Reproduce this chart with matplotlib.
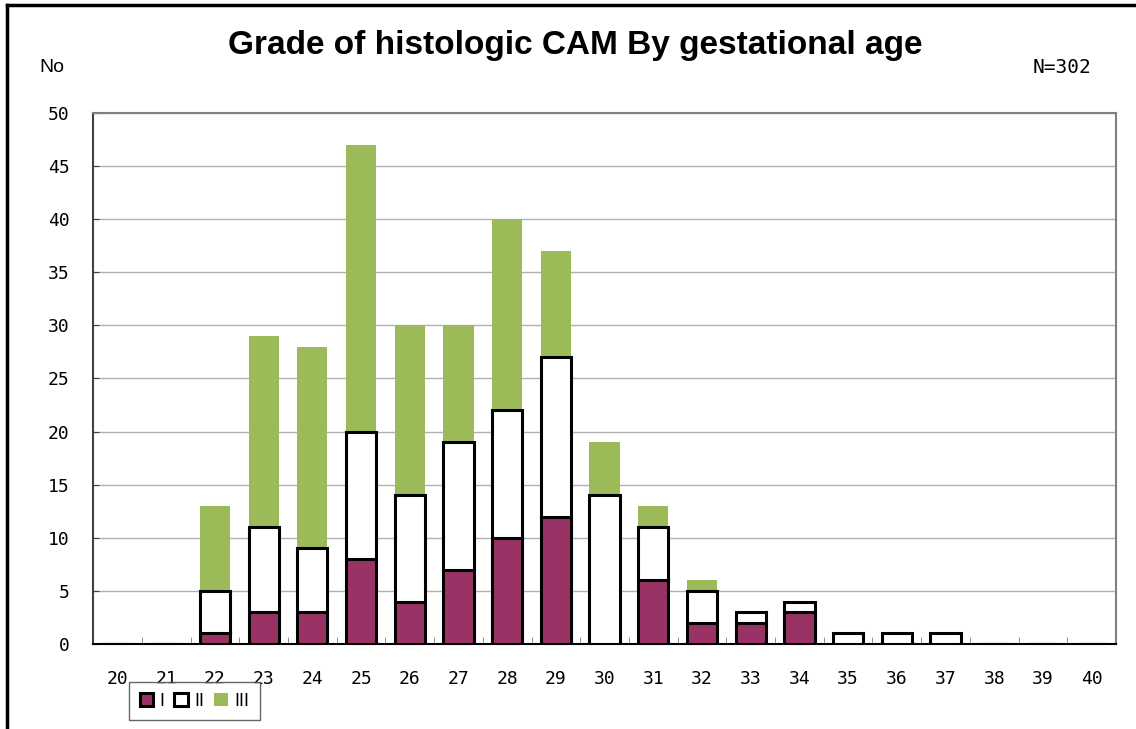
import matplotlib.pyplot as plt
from matplotlib.patches import Patch
from matplotlib.lines import Line2D
import numpy as np

# gestational age (weeks)
ages = [str(a) for a in range(20, 41)]
# number of cases per grade
grade1 = [0, 0, 1, 3, 3, 8, 4, 7, 10, 12, 0, 6, 2, 2, 3, 0, 0, 0, 0, 0, 0]
grade2 = [0, 0, 4, 8, 6, 12, 10, 12, 12, 15, 14, 5, 3, 1, 1, 1, 1, 1, 0, 0, 0]
grade3 = [0, 0, 8, 18, 19, 27, 16, 11, 18, 10, 5, 2, 1, 0, 0, 0, 0, 0, 0, 0, 0]

plum = '#993366'
green = '#9bbb59'
mono = 'DejaVu Sans Mono'

fig = plt.figure(figsize=(11.36, 7.29), dpi=100)
ax = fig.add_axes([0.082, 0.1166, 0.9004, 0.7284])

x = np.arange(len(ages))
g1 = np.array(grade1)
g2 = np.array(grade2)
g3 = np.array(grade3)
w = 0.62

ax.bar(x, g1, w, color=plum, edgecolor='black', linewidth=2.2, zorder=3)
ax.bar(x, g2, w, bottom=g1, color='white', edgecolor='black', linewidth=2.2, zorder=3)
ax.bar(x, g3, w, bottom=g1 + g2, color=green, edgecolor='none', zorder=2)

ax.set_xlim(-0.5, len(ages) - 0.5)
ax.set_ylim(0, 50)
ax.set_yticks(range(0, 51, 5))
ax.yaxis.grid(True, color='#b0b0b0', linewidth=1)
ax.set_axisbelow(True)

ax.set_xticks(x)
ax.set_xticklabels(ages, fontfamily=mono, fontsize=13)
ax.set_xticks(np.arange(-0.5, len(ages)), minor=True)
ax.tick_params(axis='x', which='major', length=0, pad=19)
ax.tick_params(axis='x', which='minor', direction='in', length=5, color='#808080')
ax.tick_params(axis='y', direction='in', length=4, color='#404040', pad=17)
for lab in ax.get_yticklabels():
    lab.set_fontfamily(mono)
    lab.set_fontsize(13)

for s in ['top', 'right']:
    ax.spines[s].set_color('#808080')
    ax.spines[s].set_linewidth(1.5)
ax.spines['left'].set_color('#404040')
ax.spines['left'].set_linewidth(1.5)
ax.spines['bottom'].set_color('black')
ax.spines['bottom'].set_linewidth(1.5)

fig.text(0.506, 0.938, 'Grade of histologic CAM By gestational age',
         ha='center', va='center', fontsize=24, fontweight='bold',
         fontfamily='Liberation Sans')
fig.text(0.046, 0.908, 'No', ha='center', va='center', fontsize=14,
         fontfamily='Liberation Sans')
fig.text(0.935, 0.908, 'N=302', ha='center', va='center', fontsize=14,
         fontfamily=mono)

handles = [Patch(facecolor=plum, edgecolor='black', linewidth=2.2),
           Patch(facecolor='white', edgecolor='black', linewidth=2.2),
           Patch(facecolor=green, edgecolor='none')]
leg = fig.legend(handles, ['I', 'II', 'III'], loc='center',
                 bbox_to_anchor=(0.171, 0.0384), ncol=3, frameon=True,
                 fancybox=False, edgecolor='#404040', handlelength=0.75,
                 handleheight=0.75, handletextpad=0.35, columnspacing=0.55,
                 borderpad=0.6, borderaxespad=0,
                 prop={'family': 'Liberation Sans', 'size': 13})
leg.get_frame().set_linewidth(1)

# partial outer frame
fig.add_artist(Line2D([0.0062, 0.0062], [0, 0.993], color='black', linewidth=2.5,
                      transform=fig.transFigure))
fig.add_artist(Line2D([0.0062, 1], [0.993, 0.993], color='black', linewidth=2.5,
                      transform=fig.transFigure))

fig.savefig('out.png', dpi=100)
